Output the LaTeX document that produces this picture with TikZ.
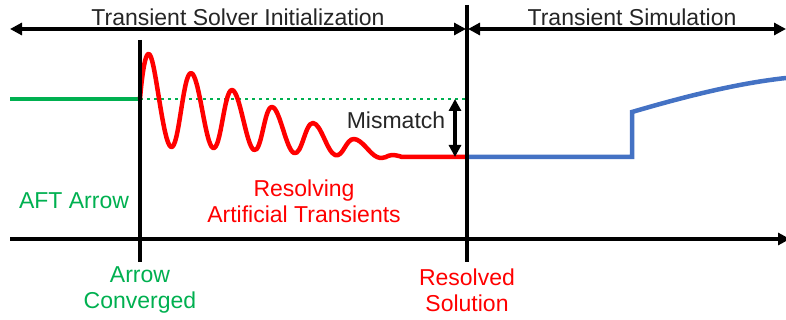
\documentclass[tikz,border=0pt]{standalone}
\usepackage{fontspec}
\setmainfont{Liberation Sans}
\usetikzlibrary{arrows.meta}
\definecolor{aftgreen}{RGB}{0,176,80}
\definecolor{simblue}{RGB}{68,114,196}
\definecolor{txtgray}{RGB}{38,38,38}
\begin{document}
\begin{tikzpicture}[x=1pt,y=-1pt,
  blackline/.style={line width=3.2pt,black},
  dimarrow/.style={line width=3.2pt,black,{Triangle[length=12pt,width=12pt]}-{Triangle[length=12pt,width=12pt]}},
  lbl/.style={font=\fontsize{23}{26}\selectfont,inner sep=0pt,align=center,text=txtgray},
]
\useasboundingbox (0,0) rectangle (786,320);
% coordinates
\coordinate (tl) at (10,29);
\coordinate (tm1) at (466,29);
\coordinate (tm2) at (468,29);
\coordinate (tr) at (786,29);
\coordinate (v1t) at (140,40);
\coordinate (v1b) at (140,262);
\coordinate (v2t) at (467,5);
\coordinate (v2b) at (467,262);
\coordinate (axl) at (10,239);
\coordinate (axr) at (790,239);
\coordinate (g0) at (10,99);
\coordinate (g1) at (140,99);
\coordinate (g2) at (466,99);
\coordinate (mt) at (455,99);
\coordinate (mb) at (455,157);
\coordinate (r2) at (467,157);
\coordinate (b1) at (632,157);
\coordinate (b2) at (632,112);
\coordinate (b3) at (786,78);

% top arrows and labels
\draw[dimarrow] (tl) -- (tm1);
\draw[dimarrow] (tm2) -- (tr);
\node[lbl,fill=white,inner xsep=3pt,inner ysep=1pt] (t1) at (238,17) {Transient Solver Initialization};
\node[lbl,fill=white,inner xsep=3pt,inner ysep=1pt] (t2) at (632,17) {Transient Simulation};

% green
\draw[aftgreen,line width=4pt] (g0) -- (g1);
\draw[aftgreen,line width=2.5pt,dash pattern=on 2.5pt off 4.5pt] (g1) -- (g2);

% red oscillation
\draw[red,line width=4.5pt,line join=round] plot[smooth,tension=0.7] coordinates {
 (140,99) (150,55) (171,147) (191,73) (213,148) (232,90) (254,150) (272,107)
 (294,153) (313,123) (335,155) (354,139) (377,157) (392,155) (402,157)} -- (r2);

% blue
\draw[simblue,line width=4.5pt] (r2) -- (b1) -- (b2) .. controls (690,95) and (740,83) .. (b3);

% axes
\draw[blackline] (v1t) -- (v1b);
\draw[blackline] (v2t) -- (v2b);
\draw[blackline,-{Triangle[length=12pt,width=12pt]}] (axl) -- (axr);

% mismatch
\draw[dimarrow] (mt) -- (mb);
\node[lbl] (mm) at (396,120) {Mismatch};

% labels
\node[lbl,text=aftgreen] (aft) at (74,201) {AFT Arrow};
\node[lbl,text=red] (res) at (304,201) {Resolving\\Artificial Transients};
\node[lbl,text=aftgreen] (ac) at (140,290) {Arrow\\Converged};
\node[lbl,text=red] (rs) at (467,290) {Resolved\\Solution};
\end{tikzpicture}
\end{document}
